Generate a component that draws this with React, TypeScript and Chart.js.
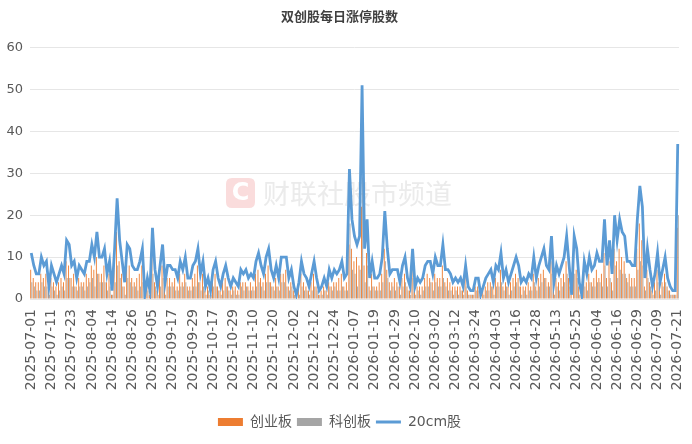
import React, { useEffect, useRef } from 'react';
import { Chart, registerables } from 'chart.js';

Chart.register(...registerables);

const chartTitle = '双创股每日涨停股数';

const tickLabels = [
  '2025-07-01', '2025-07-11', '2025-07-23', '2025-08-04', '2025-08-14', '2025-08-26',
  '2025-09-05', '2025-09-17', '2025-09-29', '2025-10-17', '2025-10-29', '2025-11-10',
  '2025-11-20', '2025-12-02', '2025-12-12', '2025-12-24', '2026-01-07', '2026-01-19',
  '2026-01-29', '2026-02-10', '2026-03-02', '2026-03-12', '2026-03-24', '2026-04-03',
  '2026-04-16', '2026-04-28', '2026-05-13', '2026-05-25', '2026-06-04', '2026-06-16',
  '2026-06-29', '2026-07-09', '2026-07-21',
];

// 创业板
const gemCounts = [
  7, 5, 4, 4, 6, 5, 6, 2, 5, 4,
  3, 4, 5, 4, 9, 8, 5, 6, 3, 5,
  4, 4, 6, 5, 8, 7, 10, 6, 6, 8,
  4, 6, 1, 8, 16, 9, 6, 3, 8, 8,
  5, 4, 5, 6, 8, 1, 3, 1, 11, 4,
  2, 5, 8, 3, 5, 5, 4, 5, 3, 6,
  4, 6, 3, 3, 5, 6, 8, 4, 6, 2,
  3, 1, 4, 6, 3, 2, 4, 5, 3, 2,
  3, 3, 2, 4, 4, 4, 3, 4, 3, 6,
  7, 5, 4, 6, 8, 4, 3, 5, 3, 6,
  6, 7, 3, 4, 2, 1, 3, 6, 4, 3,
  2, 4, 6, 3, 1, 2, 3, 2, 4, 3,
  4, 4, 5, 6, 3, 4, 13, 12, 9, 10,
  8, 22, 8, 11, 3, 6, 3, 3, 4, 6,
  12, 7, 4, 4, 5, 4, 3, 5, 6, 3,
  2, 7, 2, 3, 3, 3, 5, 6, 5, 4,
  6, 5, 5, 8, 4, 5, 4, 3, 3, 3,
  3, 2, 5, 2, 1, 1, 3, 3, 1, 2,
  3, 4, 4, 3, 5, 4, 7, 3, 4, 3,
  4, 5, 6, 5, 3, 3, 3, 4, 3, 6,
  3, 5, 6, 7, 5, 4, 9, 3, 5, 4,
  5, 6, 9, 5, 1, 9, 7, 3, 1, 6,
  4, 6, 4, 5, 7, 5, 6, 11, 5, 9,
  4, 12, 9, 12, 10, 9, 5, 6, 5, 5,
  12, 18, 14, 3, 7, 4, 2, 4, 7, 3,
  4, 6, 3, 2, 1, 1, 17,
];

// 科创板
const starCounts = [
  4, 3, 2, 2, 4, 3, 3, 1, 3, 2,
  1, 2, 3, 2, 5, 5, 3, 3, 2, 3,
  3, 2, 3, 4, 5, 3, 6, 4, 4, 4,
  2, 3, 1, 4, 8, 5, 3, 1, 5, 4,
  3, 3, 2, 3, 4, 0, 2, 1, 6, 3,
  1, 3, 5, 1, 3, 3, 3, 2, 2, 3,
  3, 4, 2, 2, 3, 3, 4, 2, 3, 1,
  2, 1, 3, 3, 2, 1, 2, 3, 2, 1,
  2, 1, 1, 3, 2, 3, 2, 2, 2, 3,
  4, 3, 2, 4, 4, 3, 2, 3, 2, 4,
  4, 3, 2, 3, 1, 0, 1, 3, 2, 2,
  1, 2, 3, 2, 1, 1, 2, 1, 3, 2,
  3, 2, 2, 3, 2, 2, 18, 7, 6, 3,
  7, 29, 4, 8, 2, 3, 2, 2, 2, 4,
  9, 5, 2, 3, 2, 3, 1, 3, 4, 2,
  1, 5, 1, 2, 1, 2, 3, 3, 4, 2,
  4, 3, 3, 5, 3, 2, 2, 1, 2, 1,
  2, 1, 3, 1, 1, 1, 2, 2, 0, 1,
  2, 2, 3, 1, 3, 3, 4, 2, 3, 1,
  2, 3, 4, 3, 1, 2, 1, 2, 2, 4,
  2, 3, 4, 5, 3, 3, 6, 1, 3, 2,
  3, 4, 6, 3, 0, 6, 5, 1, 0, 3,
  2, 4, 3, 3, 4, 4, 3, 8, 3, 5,
  2, 8, 5, 7, 6, 6, 4, 3, 3, 3,
  7, 9, 8, 2, 5, 3, 1, 2, 4, 1,
  3, 4, 2, 1, 1, 1, 20,
];

// 20cm股
const total20cm = [
  11, 8, 6, 6, 10, 8, 9, 3, 8, 6,
  4, 6, 8, 6, 14, 13, 8, 9, 5, 8,
  7, 6, 9, 9, 13, 10, 16, 10, 10, 12,
  6, 9, 2, 12, 24, 14, 9, 4, 13, 12,
  8, 7, 7, 9, 12, 1, 5, 2, 17, 7,
  3, 8, 13, 4, 8, 8, 7, 7, 5, 9,
  7, 10, 5, 5, 8, 9, 12, 6, 9, 3,
  5, 2, 7, 9, 5, 3, 6, 8, 5, 3,
  5, 4, 3, 7, 6, 7, 5, 6, 5, 9,
  11, 8, 6, 10, 12, 7, 5, 8, 5, 10,
  10, 10, 5, 7, 3, 1, 4, 9, 6, 5,
  3, 6, 9, 5, 2, 3, 5, 3, 7, 5,
  7, 6, 7, 9, 5, 6, 31, 19, 15, 13,
  15, 51, 12, 19, 5, 9, 5, 5, 6, 10,
  21, 12, 6, 7, 7, 7, 4, 8, 10, 5,
  3, 12, 3, 5, 4, 5, 8, 9, 9, 6,
  10, 8, 8, 13, 7, 7, 6, 4, 5, 4,
  5, 3, 8, 3, 2, 2, 5, 5, 1, 3,
  5, 6, 7, 4, 8, 7, 11, 5, 7, 4,
  6, 8, 10, 8, 4, 5, 4, 6, 5, 10,
  5, 8, 10, 12, 8, 7, 15, 4, 8, 6,
  8, 10, 15, 8, 1, 15, 12, 4, 1, 9,
  6, 10, 7, 8, 11, 9, 9, 19, 8, 14,
  6, 20, 14, 19, 16, 15, 9, 9, 8, 8,
  19, 27, 22, 5, 12, 7, 3, 6, 11, 4,
  7, 10, 5, 3, 2, 2, 37,
];

const LABEL_STEP = 8;
const categories = total20cm.map((_, i) => (i % LABEL_STEP === 0 ? tickLabels[i / LABEL_STEP] : ''));

const ORANGE = '#ED7D31';
const GRAY = '#A5A5A5';
const BLUE = '#5B9BD5';
const TEXT = '#595959';
const LATIN = "'DejaVu Sans', 'Noto Sans CJK SC', sans-serif";

const watermarkPlugin = {
  id: 'watermark',
  beforeDatasetsDraw(chart: any) {
    const ctx = chart.ctx as CanvasRenderingContext2D;
    ctx.save();
    const x = 226, y = 178, w = 29, h = 30, r = 6;
    ctx.fillStyle = '#fadcdc';
    ctx.beginPath();
    ctx.moveTo(x + r, y);
    ctx.lineTo(x + w - r, y);
    ctx.quadraticCurveTo(x + w, y, x + w, y + r);
    ctx.lineTo(x + w, y + h - r);
    ctx.quadraticCurveTo(x + w, y + h, x + w - r, y + h);
    ctx.lineTo(x + r, y + h);
    ctx.quadraticCurveTo(x, y + h, x, y + h - r);
    ctx.lineTo(x, y + r);
    ctx.quadraticCurveTo(x, y, x + r, y);
    ctx.closePath();
    ctx.fill();
    ctx.fillStyle = '#ffffff';
    ctx.font = "bold 24px 'DejaVu Sans'";
    ctx.textAlign = 'center';
    ctx.textBaseline = 'middle';
    ctx.fillText('C', x + w / 2, y + h / 2 + 1);
    ctx.fillStyle = '#ebebeb';
    ctx.font = "27px 'Noto Sans CJK SC'";
    ctx.textAlign = 'left';
    ctx.fillText('财联社股市频道', 263, 194);
    ctx.restore();
  },
};

export default function App() {
  const canvasRef = useRef<HTMLCanvasElement | null>(null);

  useEffect(() => {
    if (!canvasRef.current) return;
    const chart = new Chart(canvasRef.current, {
      type: 'bar',
      data: {
        labels: categories,
        datasets: [
          {
            type: 'bar',
            label: '创业板',
            data: gemCounts,
            backgroundColor: ORANGE,
            borderWidth: 0,
            barPercentage: 0.8,
            categoryPercentage: 0.9,
            order: 1,
          },
          {
            type: 'bar',
            label: '科创板',
            data: starCounts,
            backgroundColor: GRAY,
            borderWidth: 0,
            barPercentage: 0.8,
            categoryPercentage: 0.9,
            order: 2,
          },
          {
            type: 'line',
            label: '20cm股',
            data: total20cm,
            borderColor: BLUE,
            backgroundColor: BLUE,
            borderWidth: 2.8,
            pointRadius: 0,
            tension: 0,
            order: 0,
          } as any,
        ],
      },
      options: {
        animation: false,
        responsive: true,
        maintainAspectRatio: false,
        layout: { padding: { left: 0, right: 13, top: 0, bottom: 5 } },
        plugins: {
          title: {
            display: true,
            text: chartTitle,
            color: '#404040',
            font: { family: "'Noto Sans CJK SC', sans-serif", size: 13, weight: 'bold' },
            padding: { top: 8, bottom: 24 },
          },
          legend: {
            position: 'bottom',
            labels: {
              usePointStyle: true,
              pointStyleWidth: 25,
              boxHeight: 8,
              padding: 5,
              color: TEXT,
              font: { family: LATIN, size: 14 },
              generateLabels: (c: any) =>
                c.data.datasets.map((ds: any, i: number) => ({
                  text: ds.label,
                  fillStyle: ds.type === 'line' ? ds.borderColor : ds.backgroundColor,
                  strokeStyle: ds.type === 'line' ? ds.borderColor : ds.backgroundColor,
                  lineWidth: ds.type === 'line' ? 3 : 0,
                  pointStyle: ds.type === 'line' ? 'line' : 'rect',
                  hidden: false,
                  datasetIndex: i,
                  fontColor: TEXT,
                })),
            },
          },
          tooltip: { enabled: false },
        },
        scales: {
          x: {
            offset: true,
            grid: { display: false, drawTicks: false },
            border: { display: false },
            ticks: {
              autoSkip: false,
              minRotation: 90,
              maxRotation: 90,
              padding: 10,
              color: TEXT,
              font: { family: LATIN, size: 14 },
            },
            afterFit: (scale: any) => {
              scale.height = 111;
              scale.paddingRight = 0;
              scale.paddingLeft = 0;
            },
          },
          y: {
            min: 0,
            max: 60,
            ticks: {
              stepSize: 10,
              padding: 7,
              color: TEXT,
              font: { family: LATIN, size: 13 },
            },
            grid: { color: '#e6e6e6', drawTicks: false },
            border: { display: false },
            afterFit: (scale: any) => {
              scale.width = 30;
            },
          },
        },
      },
      plugins: [watermarkPlugin],
    });
    return () => chart.destroy();
  }, []);

  return (
    <div style={{ position: 'absolute', left: 0, top: 0, width: 692, height: 444, background: '#ffffff' }}>
      <canvas ref={canvasRef} />
    </div>
  );
}
